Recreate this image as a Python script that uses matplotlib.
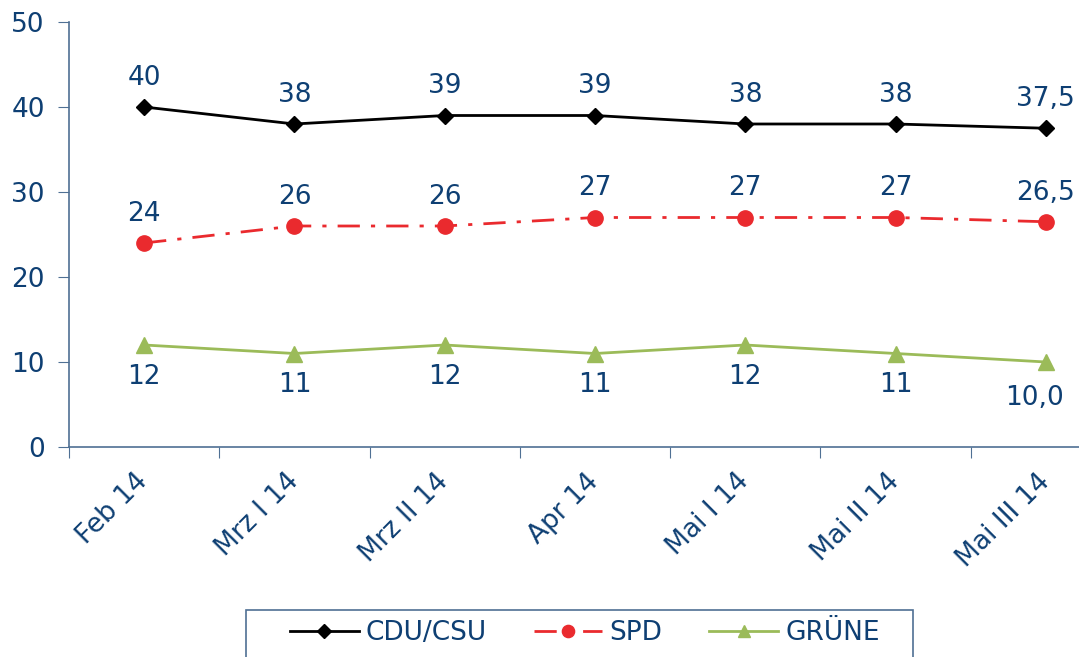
import matplotlib.pyplot as plt
from matplotlib.patches import Rectangle
from matplotlib.transforms import ScaledTranslation

# Umfragewerte (Prozent)
months = ["Feb 14", "Mrz I 14", "Mrz II 14", "Apr 14", "Mai I 14", "Mai II 14", "Mai III 14"]
cdu = [40, 38, 39, 39, 38, 38, 37.5]
spd = [24, 26, 26, 27, 27, 27, 26.5]
gruene = [12, 11, 12, 11, 12, 11, 10.0]
cdu_labels = ["40", "38", "39", "39", "38", "38", "37,5"]
spd_labels = ["24", "26", "26", "27", "27", "27", "26,5"]
gruene_labels = ["12", "11", "12", "11", "12", "11", "10,0"]

text_col = "#0E3F73"
axis_col = "#4F7094"
fs = 19

fig = plt.figure(figsize=(10.79, 6.57), dpi=100)
ax = fig.add_axes([69 / 1079, 210 / 657, 1052 / 1079, 425 / 657])

x = list(range(len(months)))
ax.plot(x, cdu, color="black", lw=2, marker="D", ms=8.5, label="CDU/CSU")
ax.plot(x, spd, color="#EA2A2E", lw=2, ls=(0, (8, 4, 1.5, 4)), marker="o", ms=11, label="SPD")
ax.plot(x, gruene, color="#9BBB59", lw=2, marker="^", ms=11, label="GRÜNE")

# Datenbeschriftungen
for xi, v, s in zip(x, cdu, cdu_labels):
    ax.annotate(s, (xi, v), xytext=(0, 21), textcoords="offset points",
                ha="center", va="center", fontsize=fs, color=text_col)
for xi, v, s in zip(x, spd, spd_labels):
    ax.annotate(s, (xi, v), xytext=(0, 21), textcoords="offset points",
                ha="center", va="center", fontsize=fs, color=text_col)
for xi, v, s in zip(x, gruene, gruene_labels):
    # letzte Beschriftung etwas nach links unten versetzt wie im Original
    off = (-8, -26) if xi == x[-1] else (0, -23)
    ax.annotate(s, (xi, v), xytext=off, textcoords="offset points",
                ha="center", va="center", fontsize=fs, color=text_col)

ax.set_ylim(0, 50)
ax.set_yticks(range(0, 51, 10))
ax.set_xlim(-0.5, len(months) - 0.5)
# Striche zwischen den Kategorien, Beschriftung auf den Kategorien
ax.set_xticks([i + 0.5 for i in range(-1, len(months))])
ax.set_xticklabels([])
ax.set_xticks(x, minor=True)
ax.set_xticklabels(months, minor=True, rotation=45, ha="right", va="center",
                   rotation_mode="anchor", fontsize=fs, color=text_col)
shift = ScaledTranslation(6 / 100, 0, fig.dpi_scale_trans)
for lab in ax.get_xticklabels(minor=True):
    lab.set_transform(lab.get_transform() + shift)
ax.tick_params(axis="x", which="minor", length=0, pad=22)
ax.tick_params(axis="x", which="major", length=8, color=axis_col, direction="out")
ax.tick_params(axis="y", length=8, color=axis_col, labelsize=fs, labelcolor=text_col, pad=9.5)

for side in ["top", "right"]:
    ax.spines[side].set_visible(False)
for side in ["left", "bottom"]:
    ax.spines[side].set_color(axis_col)
    ax.spines[side].set_linewidth(1.2)

# Legende mit eigenem Rahmen
fig.patches.append(Rectangle((246 / 1079, -0.05), (913 - 246) / 1079, 1 - 610 / 657 + 0.05,
                             transform=fig.transFigure, fill=False,
                             edgecolor=axis_col, linewidth=1.2))
fig.legend(loc="center left", bbox_to_anchor=(290 / 1079, 1 - 633 / 657), ncol=3,
           fontsize=fs, frameon=False, handlelength=2.6, handletextpad=0.27,
           columnspacing=1.78, borderpad=0, borderaxespad=0, labelcolor=text_col,
           markerscale=0.8)

fig.savefig("out.png", dpi=100)
